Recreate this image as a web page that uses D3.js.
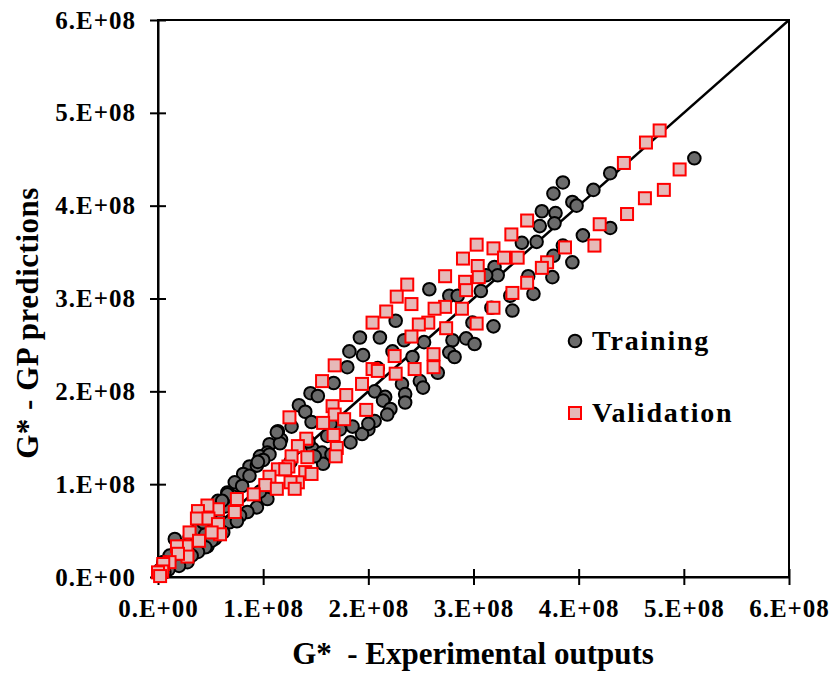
<!DOCTYPE html>
<html>
<head>
<meta charset="utf-8">
<script src="https://cdn.jsdelivr.net/npm/d3@7"></script>
<style>
  html, body { margin: 0; padding: 0; background: #fff; }
  svg { display: block; }
  text { font-family: "Liberation Serif", "Times New Roman", serif; font-weight: bold; fill: #000; }
</style>
</head>
<body>
<svg id="chart" width="835" height="673"></svg>
<script>
// ---- data (values in units of 1E+08) ----
const UNIT = 1e8;
const xTickValues = [0, 1, 2, 3, 4, 5, 6];
const yTickValues = [0, 1, 2, 3, 4, 5, 6];
const xTickLabels = ["0.E+00", "1.E+08", "2.E+08", "3.E+08", "4.E+08", "5.E+08", "6.E+08"];
const yTickLabels = ["0.E+00", "1.E+08", "2.E+08", "3.E+08", "4.E+08", "5.E+08", "6.E+08"];
const xTitle = "G*  - Experimental outputs";
const yTitle = "G* - GP predictions";
const seriesNames = ["Training", "Validation"];

// Training: [experimental, predicted]
const training = [
  [5.10,4.51],[4.30,4.35],[4.14,4.17],[3.85,4.25],[3.76,4.13],[3.94,4.04],[3.98,4.00],[3.65,3.94],
  [3.78,3.92],[3.63,3.78],[3.77,3.81],[4.30,3.76],[4.04,3.68],[3.46,3.60],[3.60,3.61],[3.85,3.57],
  [3.76,3.46],[3.94,3.39],[3.20,3.34],[3.23,3.25],[3.75,3.23],[3.52,3.24],[3.12,3.25],[3.57,3.05],
  [3.07,3.08],[3.35,3.03],[2.77,3.03],[2.85,3.03],[2.58,3.10],[3.17,2.90],[3.37,2.87],[3.19,2.70],
  [2.99,2.74],[2.80,2.55],[2.93,2.57],[3.01,2.51],[2.53,2.53],[2.34,2.55],[2.42,2.37],[2.77,2.42],
  [2.82,2.37],[2.66,2.20],[2.49,2.11],[2.52,2.04],
  [2.26,2.76],[2.11,2.58],[1.92,2.58],[1.82,2.43],[1.95,2.39],[2.23,2.43],[1.80,2.26],[2.09,2.25],
  [1.67,2.09],[2.32,2.08],[2.06,2.00],[2.35,1.97],[2.16,1.94],[2.35,1.88],
  [1.45,1.98],[1.52,1.95],[1.34,1.85],[1.40,1.78],[1.27,1.62],[1.14,1.57],[1.17,1.48],[1.06,1.43],
  [1.04,1.34],[0.97,1.30],[2.14,1.90],[2.21,1.81],[2.06,1.68],[2.00,1.59],[1.94,1.54],[1.85,1.62],
  [1.83,1.45],[1.47,1.38],[1.56,1.34],[1.43,1.46],[1.65,1.32],[1.57,1.22],[1.26,1.24],[1.61,1.52],
  [1.73,1.59],[2.18,1.75],[1.46,1.67],[1.64,1.65],[2.00,1.65],[1.49,1.30],
  [1.16,1.44],[1.06,1.32],[0.87,1.19],[0.94,1.20],[0.81,1.11],[0.87,1.09],[0.73,1.02],[0.80,0.98],
  [0.66,0.91],[0.71,0.87],[0.57,0.82],[0.64,0.76],[0.51,0.71],[0.57,0.65],[0.45,0.60],[0.51,0.54],
  [0.38,0.52],[0.45,0.46],[0.30,0.43],[0.37,0.38],[0.24,0.33],[0.18,0.28],[0.16,0.41],[0.11,0.23],
  [0.05,0.16],[0.02,0.08],[0.94,0.75],[0.85,0.70],[1.04,0.84],[0.97,0.92],[0.33,0.27],[0.43,0.33],
  [0.78,0.66],[0.68,0.59],[0.62,0.48],[0.54,0.41],[0.47,0.33],[1.13,1.56],[1.00,1.26],[0.95,1.24],
  [0.66,0.89],[0.61,0.82],[0.50,0.68],[0.43,0.59],[0.75,0.60],[0.59,0.46],[0.51,0.39],[0.45,0.32],
  [0.38,0.27],[0.32,0.23],[0.28,0.16],[0.20,0.12],[0.10,0.08],[0.06,0.05]
];

// Validation: [experimental, predicted]
const validation = [
  [4.77,4.81],[4.64,4.68],[4.43,4.46],[4.96,4.39],[4.81,4.17],[4.63,4.08],[4.46,3.91],[4.20,3.80],
  [4.15,3.57],[3.87,3.55],[3.51,3.84],[3.36,3.69],[3.03,3.58],[3.19,3.54],[2.90,3.43],[3.29,3.44],
  [3.42,3.44],[3.04,3.35],[3.70,3.39],[3.65,3.33],[2.73,3.24],[2.92,3.18],[3.05,3.23],[2.93,3.09],
  [2.37,3.15],[3.51,3.17],[3.37,3.06],[2.41,2.94],[2.73,2.91],[2.63,2.89],[2.89,2.89],[3.19,2.90],
  [2.57,2.74],[2.48,2.72],[2.74,2.68],[3.03,2.73],[2.41,2.59],[2.62,2.40],[2.62,2.26],[2.44,2.24],
  [2.27,3.02],[2.17,2.86],[2.04,2.74],[2.25,2.38],[2.04,2.24],[2.09,2.22],[2.26,2.19],[1.68,2.28],
  [1.94,2.08],[1.79,1.96],[1.56,2.11],[1.66,1.84],[1.68,1.75],[1.77,1.70],[1.98,1.80],[1.25,1.72],
  [1.57,1.66],[1.67,1.53],[1.41,1.49],[1.33,1.41],[1.70,1.39],[1.69,1.30],[1.27,1.30],[1.42,1.29],
  [1.24,1.19],[1.14,1.16],[1.40,1.13],[1.46,1.11],[1.06,1.08],[1.33,1.02],[1.02,0.99],[1.21,1.16],
  [1.13,0.95],[1.26,1.02],[1.30,0.95],[0.91,0.89],[0.75,0.84],[0.73,0.70],[0.57,0.73],[0.47,0.77],
  [0.38,0.71],[0.37,0.63],[0.48,0.63],[0.57,0.57],[0.59,0.46],[0.51,0.48],[0.30,0.48],[0.39,0.39],
  [0.27,0.33],[0.18,0.33],[0.28,0.22],[0.19,0.25],[0.11,0.16],[0.05,0.14],[0.04,0.06],[0.00,0.05],
  [0.02,0.01]
];

// ---- drawing ----
const svg = d3.select("#chart");
const plot = { left: 158, right: 789, top: 20, bottom: 577 };

const x = d3.scaleLinear().domain([0, 6 * UNIT]).range([plot.left, plot.right]);
const y = d3.scaleLinear().domain([0, 6 * UNIT]).range([plot.bottom, plot.top]);

// frame
svg.append("rect")
  .attr("x", plot.left).attr("y", plot.top)
  .attr("width", plot.right - plot.left).attr("height", plot.bottom - plot.top)
  .attr("fill", "none").attr("stroke", "#000").attr("stroke-width", 2);

// axes
const xAxis = d3.axisBottom(x)
  .tickValues(xTickValues.map(v => v * UNIT))
  .tickFormat((d, i) => xTickLabels[i])
  .tickSizeOuter(0).tickSizeInner(8).tickPadding(14);
const gx = svg.append("g").attr("transform", `translate(0,${plot.bottom})`).call(xAxis);
gx.select(".domain").attr("stroke", "#000").attr("stroke-width", 2);
gx.selectAll(".tick line").attr("y1", -8).attr("y2", 8).attr("stroke", "#000").attr("stroke-width", 2);
gx.selectAll(".tick text").attr("font-size", 25).attr("font-family", "Liberation Serif")
  .attr("font-weight", "bold").attr("fill", "#000").attr("letter-spacing", 1);

const yAxis = d3.axisLeft(y)
  .tickValues(yTickValues.map(v => v * UNIT))
  .tickFormat((d, i) => yTickLabels[i])
  .tickSizeOuter(0).tickSizeInner(8).tickPadding(14);
const gy = svg.append("g").attr("transform", `translate(${plot.left},0)`).call(yAxis);
gy.select(".domain").attr("stroke", "#000").attr("stroke-width", 2);
gy.selectAll(".tick line").attr("x1", -8).attr("x2", 8).attr("stroke", "#000").attr("stroke-width", 2);
gy.selectAll(".tick text").attr("font-size", 25).attr("font-family", "Liberation Serif")
  .attr("font-weight", "bold").attr("fill", "#000").attr("letter-spacing", 1);

// 1:1 line
svg.append("line")
  .attr("x1", x(0)).attr("y1", y(0))
  .attr("x2", x(6 * UNIT)).attr("y2", y(6 * UNIT))
  .attr("stroke", "#000").attr("stroke-width", 2.5);

// training circles
svg.append("g").selectAll("circle").data(training).join("circle")
  .attr("cx", d => x(d[0] * UNIT)).attr("cy", d => y(d[1] * UNIT))
  .attr("r", 6.3)
  .attr("fill", "#6b6b6b").attr("stroke", "#000").attr("stroke-width", 2);

// validation squares
const S = 12;
svg.append("g").selectAll("rect").data(validation).join("rect")
  .attr("x", d => x(d[0] * UNIT) - S / 2).attr("y", d => y(d[1] * UNIT) - S / 2)
  .attr("width", S).attr("height", S)
  .attr("fill", "#e6b9b8").attr("stroke", "#ff0000").attr("stroke-width", 2);

// legend
const lg = svg.append("g");
lg.append("circle").attr("cx", 575).attr("cy", 341).attr("r", 6.3)
  .attr("fill", "#6b6b6b").attr("stroke", "#000").attr("stroke-width", 2);
lg.append("text").attr("x", 592).attr("y", 350).attr("font-size", 28)
  .attr("letter-spacing", 1.8).text(seriesNames[0]);
lg.append("rect").attr("x", 575 - S / 2).attr("y", 413 - S / 2).attr("width", S).attr("height", S)
  .attr("fill", "#e6b9b8").attr("stroke", "#ff0000").attr("stroke-width", 2);
lg.append("text").attr("x", 592).attr("y", 422).attr("font-size", 28)
  .attr("letter-spacing", 1.8).text(seriesNames[1]);

// axis titles
svg.append("text").attr("x", 473).attr("y", 664).attr("text-anchor", "middle")
  .attr("font-size", 31).style("white-space", "pre").text(xTitle);
svg.append("text").attr("transform", "translate(38,323) rotate(-90)").attr("text-anchor", "middle")
  .attr("font-size", 31).attr("letter-spacing", 0.5).text(yTitle);
</script>
</body>
</html>
